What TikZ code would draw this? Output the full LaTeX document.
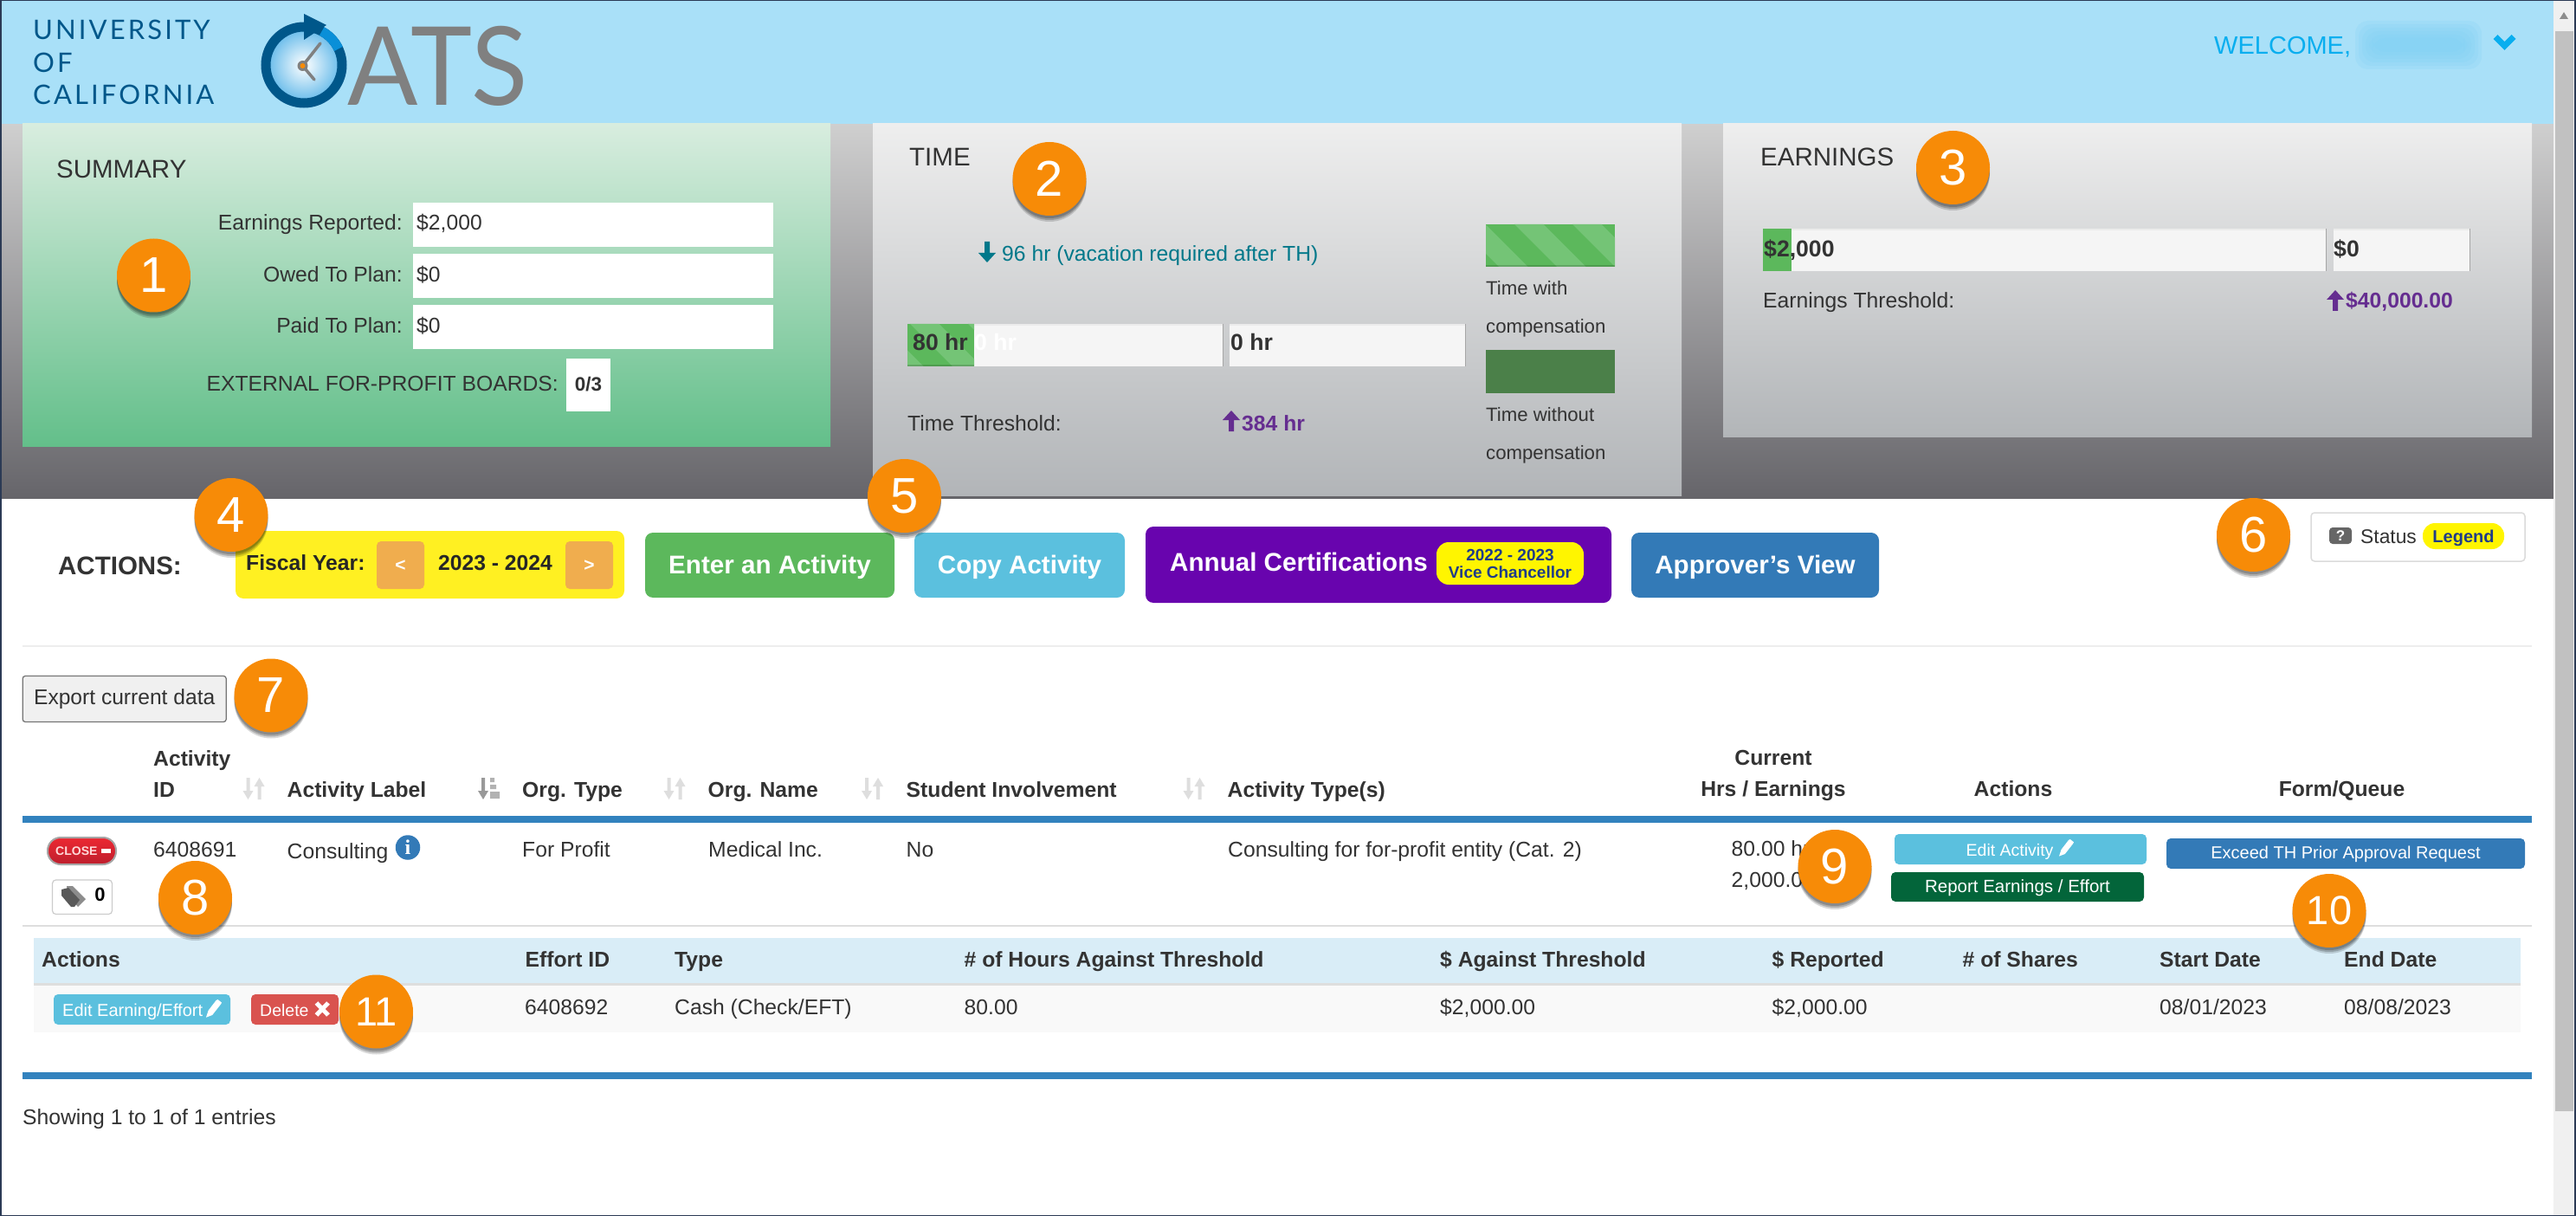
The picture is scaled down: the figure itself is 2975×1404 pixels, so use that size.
\documentclass[tikz,border=0pt]{standalone}
\usepackage{fontspec}
\setmainfont{Liberation Sans}
\newfontfamily\logofont{Lato}
\newfontfamily\unifont[LetterSpace=10]{Lato}
\newfontfamily\infofont{Liberation Serif}
\usetikzlibrary{shadows}
\definecolor{headblue}{HTML}{A9E0F8}
\definecolor{blurblue}{HTML}{7FD0F4}
\definecolor{welcomeblue}{HTML}{09AEEF}
\definecolor{logoblue}{HTML}{00578A}
\definecolor{logolight}{HTML}{0A8FD8}
\definecolor{clockedge}{HTML}{6EBEEB}
\definecolor{logogray}{HTML}{808080}
\definecolor{badgeorange}{HTML}{F78B07}
\definecolor{txtgray}{HTML}{333333}
\definecolor{bandtop}{HTML}{CFCFCF}
\definecolor{bandbot}{HTML}{66656A}
\definecolor{sumtop}{HTML}{D8EDDF}
\definecolor{sumbot}{HTML}{63BF8A}
\definecolor{paneltop}{HTML}{EEEEEE}
\definecolor{panelbot}{HTML}{B2B5B8}
\definecolor{barwhite}{HTML}{F5F5F5}
\definecolor{stripedark}{HTML}{5CB85C}
\definecolor{stripelight}{HTML}{74C476}
\definecolor{nocomp}{HTML}{4B8049}
\definecolor{tealtxt}{HTML}{00788A}
\definecolor{purpletxt}{HTML}{652D90}
\definecolor{fyyellow}{HTML}{FFF022}
\definecolor{fyorange}{HTML}{F0AD4E}
\definecolor{btnblue}{HTML}{5BC0DE}
\definecolor{btnnavy}{HTML}{337AB7}
\definecolor{btnpurple}{HTML}{6804AE}
\definecolor{pillyellow}{HTML}{FFF500}
\definecolor{pilltxt}{HTML}{1F3C88}
\definecolor{ruleblue}{HTML}{3282BE}
\definecolor{reportgreen}{HTML}{03653A}
\definecolor{delred}{HTML}{D9534F}
\definecolor{closetop}{HTML}{EC2832}
\definecolor{closebot}{HTML}{BE1E2D}
\definecolor{subhead}{HTML}{D9EDF7}
\definecolor{frameblue}{HTML}{2B3A55}
\definecolor{scrollgray}{HTML}{C1C1C1}
\definecolor{scrolltrack}{HTML}{F0F0F0}
\newcommand{\fsize}[1]{\fontsize{#1}{#1}\selectfont}
\newcommand{\stripes}[5]{%
    \begin{scope}
        \clip (#1,#2) rectangle (#3,#4);
        \fill[stripedark] (#1,#2) rectangle (#3,#4);
        \foreach \k in {-3,...,3}
            \fill[stripelight] (#5+67*\k,#2) -- ++(33.5,0) -- ++(50,50) -- ++(-33.5,0) -- cycle;
        \fill[black,opacity=.15] (#1,#4-2) rectangle (#3,#4);
    \end{scope}}
\newcommand{\barbox}[4]{%
    \fill[barwhite] (#1,#2) rectangle (#3,#4);
    \fill[black!8] (#1,#2) rectangle (#3,#2+2);
    \fill[black!35] (#3-1.5,#2) rectangle (#3,#4);}
\begin{document}
\begin{tikzpicture}[x=1pt,y=-1pt,
    lbl/.style={anchor=base west,inner sep=0pt,text=txtgray,font=\fsize{24.7}},
    lblr/.style={lbl,anchor=base east},
    lblc/.style={lbl,anchor=base},
    hdr/.style={lbl,font=\fsize{24.7}\bfseries},
    hdrc/.style={hdr,anchor=base},
    title/.style={lbl,font=\fsize{29.5}},
    small/.style={lbl,font=\fsize{22.2}},
    barval/.style={lbl,font=\fsize{26.6}\bfseries},
    badge/.style={circle,fill=badgeorange,text=white,minimum size=85pt,inner sep=0pt,font=\fsize{58},
        drop shadow={shadow xshift=0pt,shadow yshift=-3pt,opacity=.2,fill=black},
        drop shadow={shadow xshift=0pt,shadow yshift=-5pt,opacity=.2,fill=black},
        drop shadow={shadow xshift=0pt,shadow yshift=-7pt,opacity=.15,fill=black}},
    btn/.style={rounded corners=9pt,text=white,inner sep=0pt,font=\fsize{29.6}\bfseries,text height=20pt,text depth=0pt},
    fybtn/.style={btn,fill=fyorange,minimum width=55pt,minimum height=55pt,rounded corners=5pt,font=\fsize{21}\bfseries,text height=14pt},
    smallbtn/.style={rounded corners=5pt,text=white,inner sep=0pt,font=\fsize{19.5},text height=12pt,text depth=0pt},
    pill/.style={rounded corners=14pt,fill=pillyellow,inner sep=0pt},
    pilltext/.style={anchor=base,inner sep=0pt,text=pilltxt,font=\fsize{19}\bfseries},
    upicon/.pic={\fill (10,0) -- (20,11) -- (13,11) -- (13,24) -- (7,24) -- (7,11) -- (0,11) -- cycle;},
    downicon/.pic={\fill (10,24) -- (20,13) -- (13,13) -- (13,0) -- (7,0) -- (7,13) -- (0,13) -- cycle;},
    sorticon/.pic={\fill[black!13] (6,25) -- (12,15) -- (8,15) -- (8,0) -- (4,0) -- (4,15) -- (0,15) -- cycle;
        \fill[black!13] (19,0) -- (25,10) -- (21,10) -- (21,25) -- (17,25) -- (17,10) -- (13,10) -- cycle;},
    pencilicon/.pic={\fill[white] (0,23) -- (3,14) -- (13,1) -- (15,0) -- (20,4) -- (19,6) -- (8,20) -- cycle;}]

    \useasboundingbox (0,0) rectangle (2975,1404);
    \fill[white] (0,0) rectangle (2975,1404);

    \shade[top color=bandtop,bottom color=bandbot] (1,143) rectangle (2950,575);
    \fill[headblue] (1,1) rectangle (2950,143);

    \shade[top color=sumtop,bottom color=sumbot] (26,143) rectangle (959,515);
    \shade[top color=paneltop,bottom color=panelbot] (1008,143) rectangle (1942,572);
    \shade[top color=paneltop,bottom color=panelbot] (1990,143) rectangle (2924,504);

    \node[anchor=base west,inner sep=0pt,text=logoblue,font=\unifont\fsize{31}] (uni1) at (38,46)  {UNIVERSITY};
    \node[anchor=base west,inner sep=0pt,text=logoblue,font=\unifont\fsize{31}] (uni2) at (38,84)  {OF};
    \node[anchor=base west,inner sep=0pt,text=logoblue,font=\unifont\fsize{31}] (uni3) at (38,121) {CALIFORNIA};

    \shade[inner color=white,outer color=clockedge] (351,75) circle (40);
    \draw[logoblue,line width=11pt] (351,75) circle (44);
    \draw[logolight,line width=11pt] (351,75) ++(-62:44) arc[start angle=-62,end angle=-25,radius=44];
    \fill[logoblue] (351,16) -- (377,29) -- (351,46) -- cycle;
    \draw[logogray,line width=3.5pt,line cap=round] (370,50) -- (349.5,76) -- (363,92);
    \fill[logogray] (349.5,76) circle (6);
    \fill[badgeorange] (349.5,76) circle (3);
    \node[anchor=base west,inner sep=0pt,text=logogray,font=\logofont\fsize{126}] (ats) at (401,122) {\scalebox{.955}[1]{ATS}};

    \node[anchor=base west,inner sep=0pt,text=welcomeblue,font=\fsize{29}] (welcome) at (2557,63) {WELCOME,};
    \foreach \d in {0,4,...,20}
        \fill[blurblue,opacity=.2,rounded corners=15pt] (2720+\d,24+\d) rectangle (2866-\d,80-\d);
    \draw[welcomeblue,line width=7pt] (2882,42.5) -- (2892.5,53) -- (2903,42.5);

    \node[title] (summary) at (65,206) {SUMMARY};
    \node[lblr]  (earnrep) at (465,266) {Earnings Reported:};
    \node[lblr]  (owed)    at (465,326) {Owed To Plan:};
    \node[lblr]  (paid)    at (465,385) {Paid To Plan:};
    \fill[white] (477,234) rectangle (893,285);
    \fill[white] (477,293) rectangle (893,344);
    \fill[white] (477,352) rectangle (893,403);
    \node[lbl]   (earnval) at (481,266) {\$2,000};
    \node[lbl]   (owedval) at (481,326) {\$0};
    \node[lbl]   (paidval) at (481,385) {\$0};
    \node[lblr]  (extern)  at (645,452) {EXTERNAL FOR-PROFIT BOARDS:};
    \fill[white] (654,414) rectangle (705,475);
    \node[lblc,font=\fsize{22.5}\bfseries] (boards) at (679.5,452) {0/3};

    \node[title] (time) at (1050,192) {TIME};
    \pic[tealtxt] at (1130,279) {downicon};
    \node[lbl,text=tealtxt] (vacation) at (1157,302) {96 hr (vacation required after TH)};
    \stripes{1716}{259}{1865}{308}{1749}
    \node[small] (with1) at (1716,341) {Time with};
    \node[small] (with2) at (1716,385) {compensation};
    \fill[nocomp] (1716,404) rectangle (1865,454);
    \node[small] (wout1) at (1716,486) {Time without};
    \node[small] (wout2) at (1716,530) {compensation};
    \barbox{1048}{374}{1413}{423}
    \barbox{1420}{374}{1693}{423}
    \stripes{1048}{374}{1125}{423}{1051}
    \node[barval] (hrgreen) at (1054,405) {80 hr};
    \node[barval,text=white] (hrwhite) at (1125,405) {0 hr};
    \node[barval] (hrzero) at (1421,405) {0 hr};
    \node[lbl] (timeth) at (1048,497) {Time Threshold:};
    \pic[purpletxt] at (1412,474) {upicon};
    \node[lbl,font=\fsize{24.7}\bfseries,text=purpletxt] (hrth) at (1434,497) {384 hr};

    \node[title] (earnings) at (2033,192) {EARNINGS};
    \barbox{2036}{264}{2687}{313}
    \barbox{2695}{264}{2853}{313}
    \fill[stripedark] (2036,264) rectangle (2069,313);
    \node[barval] (eargreen) at (2037,297) {\$2,000};
    \node[barval] (earzero)  at (2695,297) {\$0};
    \node[lbl]    (earth)    at (2036,356) {Earnings Threshold:};
    \pic[purpletxt] at (2687,335) {upicon};
    \node[lbl,font=\fsize{24.7}\bfseries,text=purpletxt] (earthval) at (2709,356) {\$40,000.00};

    \node[lbl,font=\fsize{29.5}\bfseries] (actions) at (67,663) {ACTIONS:};
    \fill[fyyellow,rounded corners=9pt] (272,613) rectangle (721,691);
    \node[hdr,text=black!85] (fiscal) at (284,658) {Fiscal Year:};
    \node[fybtn] (prev) at (462.5,652.5) {<};
    \node[hdrc,text=black!85] (year) at (572,658) {2023 - 2024};
    \node[fybtn] (next) at (680.5,652.5) {>};
    \node[btn,fill=stripedark,minimum width=288pt,minimum height=75pt] (enter)  at (889,652.5)  {Enter an Activity};
    \node[btn,fill=btnblue,minimum width=243pt,minimum height=75pt]    (copy)   at (1177.5,652.5) {Copy Activity};
    \fill[btnpurple,rounded corners=9pt] (1323,608) rectangle (1861,696);
    \node[lbl,text=white,font=\fsize{29.6}\bfseries] (annual) at (1351,659) {Annual Certifications};
    \node[pill,minimum width=170pt,minimum height=49pt] (cert) at (1744,650.5) {};
    \node[pilltext] (certyear) at (1744,647) {2022 - 2023};
    \node[pilltext] (certvc)   at (1744,667) {Vice Chancellor};
    \node[btn,fill=btnnavy,minimum width=286pt,minimum height=75pt]    (appr)   at (2027,652.5) {Approver's View};

    \draw[black!14,rounded corners=4pt,fill=white,line width=1.5pt] (2669,592) rectangle (2916,648);
    \fill[black!60,rounded corners=4pt] (2690,609) rectangle (2716,628);
    \node[anchor=center,inner sep=0pt,text=white,font=\fsize{17}\bfseries] (quest) at (2703,618.5) {?};
    \node[lbl,font=\fsize{22.8}] (status) at (2726,627) {Status};
    \node[pill,minimum width=94pt,minimum height=30pt] (legend) at (2845,619) {};
    \node[pilltext,font=\fsize{20}\bfseries] (legendt) at (2845,626) {Legend};

    \fill[black!7] (26,745) rectangle (2924,747);

    \node[draw=black!54,fill=black!6,rounded corners=3pt,line width=1.3pt,minimum width=235pt,minimum height=53pt,inner sep=0pt,text=txtgray,font=\fsize{24.6},text height=12pt,text depth=0pt] (export) at (143.7,807) {Export current data};

    \node[hdr]  (colid1)   at (177,884)    {Activity};
    \node[hdr]  (colid2)   at (177,920)    {ID};
    \node[hdr]  (collabel) at (331.5,920)  {Activity Label};
    \node[hdr]  (coltype)  at (603,920)    {Org. Type};
    \node[hdr]  (colname)  at (817.5,920)  {Org. Name};
    \node[hdr]  (colstud)  at (1046.5,920) {Student Involvement};
    \node[hdr]  (colact)   at (1417.5,920) {Activity Type(s)};
    \node[hdrc] (colcur1)  at (2048,883)   {Current};
    \node[hdrc] (colcur2)  at (2048,919)   {Hrs / Earnings};
    \node[hdrc] (colacts)  at (2325,919)   {Actions};
    \node[hdrc] (colform)  at (2704.5,919) {Form/Queue};
    \pic at (280.5,898) {sorticon};
    \pic at (766.5,898) {sorticon};
    \pic at (995,898) {sorticon};
    \pic at (1366.5,898) {sorticon};
    \fill[black!40] (558,923) -- (564,913) -- (560,913) -- (560,898) -- (556,898) -- (556,913) -- (552,913) -- cycle;
    \fill[black!30] (566,898) rectangle (571,903) (566,906) rectangle (573,911) (566,914) rectangle (577,922);

    \fill[ruleblue] (26,942) rectangle (2924,950);
    \fill[ruleblue] (26,1238) rectangle (2924,1246);
    \fill[black!13] (26,1068) rectangle (2924,1070);

    \node[draw=black!35,line width=2pt,rounded corners=15pt,top color=closetop,bottom color=closebot,minimum width=79pt,minimum height=31pt,inner sep=0pt] (close) at (94.5,982.5) {};
    \node[anchor=base west,inner sep=0pt,text=white!85!red,font=\fsize{14}\bfseries] (closet) at (64,987.5) {CLOSE};
    \fill[white] (117,980) rectangle (127.5,984.5);
    \draw[black!20,fill=white,rounded corners=4pt,line width=1.2pt] (60.5,1016) rectangle (129.5,1055.5);
    \fill[black!45] (77,1023) -- (84,1023) -- (99,1038) -- (90,1047) -- (79,1034) -- cycle;
    \fill[black!65] (71,1027) -- (79,1025) -- (92,1039) -- (86,1047) -- (82,1047) -- (71,1034) -- cycle;
    \node[lblc,font=\fsize{22}\bfseries,text=black] (tagnum) at (115.5,1040) {0};

    \node[lbl] (rowid)    at (177,989)    {6408691};
    \node[lbl] (rowlabel) at (331.5,991.5) {Consulting};
    \node[circle,fill=btnnavy,minimum size=28.5pt,inner sep=0pt,text=white,font=\infofont\fsize{24}\bfseries] (info) at (471,978.5) {i};
    \node[lbl] (rowtype)  at (603,989)    {For Profit};
    \node[lbl] (rowname)  at (818,989)    {Medical Inc.};
    \node[lbl] (rowstud)  at (1046.5,989) {No};
    \node[lbl] (rowact)   at (1418,989)   {Consulting for for-profit entity (Cat. 2)};
    \node[lbl] (rowhrs)   at (1999.5,988) {80.00 hr};
    \node[lbl] (rowearn)  at (1999.5,1024) {2,000.00};

    \node[smallbtn,fill=btnblue,minimum width=291pt,minimum height=35pt] (editact) at (2333.5,980.5) {};
    \node[lbl,text=white,font=\fsize{19.5}] (editactt) at (2270.5,988) {Edit Activity};
    \pic[scale=.85] at (2378,969) {pencilicon};
    \node[smallbtn,fill=reportgreen,minimum width=292pt,minimum height=34pt,font=\fsize{20.5}] (report) at (2330,1024) {Report Earnings / Effort};
    \node[smallbtn,fill=btnnavy,minimum width=414pt,minimum height=35pt,font=\fsize{20}] (exceed) at (2709,985.5) {Exceed TH Prior Approval Request};

    \fill[subhead] (39,1083) rectangle (2911,1135);
    \fill[black!13] (39,1135) rectangle (2911,1138);
    \fill[black!2.5] (39,1138) rectangle (2911,1192);
    \node[hdr] (subacts)  at (48,1116.5)   {Actions};
    \node[hdr] (subid)    at (606.5,1116.5) {Effort ID};
    \node[hdr] (subtype)  at (779,1116.5)  {Type};
    \node[hdr] (subhours) at (1113.5,1116.5) {\# of Hours Against Threshold};
    \node[hdr] (subamt)   at (1663,1116.5) {\$ Against Threshold};
    \node[hdr] (subrep)   at (2046.5,1116.5) {\$ Reported};
    \node[hdr] (subshare) at (2266.5,1116.5) {\# of Shares};
    \node[hdr] (substart) at (2494,1116.5) {Start Date};
    \node[hdr] (subend)   at (2707,1116.5) {End Date};
    \node[lbl] (valid)    at (606,1171.5)  {6408692};
    \node[lbl] (valtype)  at (779,1171.5)  {Cash (Check/EFT)};
    \node[lbl] (valhours) at (1113.5,1171.5) {80.00};
    \node[lbl] (valamt)   at (1663,1171.5) {\$2,000.00};
    \node[lbl] (valrep)   at (2046.5,1171.5) {\$2,000.00};
    \node[lbl] (valstart) at (2494,1171.5) {08/01/2023};
    \node[lbl] (valend)   at (2707,1171.5) {08/08/2023};

    \node[smallbtn,fill=btnblue,minimum width=204pt,minimum height=35pt] (editeff) at (164,1165.5) {};
    \node[lbl,text=white,font=\fsize{20}] (editefft) at (72,1173) {Edit Earning/Effort};
    \pic[scale=.9] at (238,1154) {pencilicon};
    \node[smallbtn,fill=delred,minimum width=101pt,minimum height=35pt] (delete) at (340.5,1165.5) {};
    \node[lbl,text=white,font=\fsize{19.5}] (deletet) at (300,1173) {Delete};
    \draw[white,line width=5pt] (365.5,1158) -- (379,1172) (379,1158) -- (365.5,1172);

    \node[lbl] (showing) at (26,1298) {Showing 1 to 1 of 1 entries};

    \node[badge] (b1)  at (177.5,318)  {1};
    \node[badge] (b2)  at (1212,206.5) {2};
    \node[badge] (b3)  at (2255.5,193.5) {3};
    \node[badge] (b4)  at (267,594.5)  {4};
    \node[badge] (b5)  at (1044.5,572.5) {5};
    \node[badge] (b6)  at (2602.5,617.5) {6};
    \node[badge] (b7)  at (313,803)    {7};
    \node[badge] (b8)  at (225.5,1036.5) {8};
    \node[badge] (b9)  at (2119,1000.5) {9};
    \node[badge,font=\fsize{47}] (b10) at (2690,1051.5) {10};
    \node[badge,font=\fsize{47}] (b11) at (434.5,1168) {11};

    \fill[scrolltrack] (2949,0) rectangle (2973,1404);
    \fill[scrollgray] (2951,36) rectangle (2972,1283);
    \fill[black!45] (2956,22) -- (2961,14) -- (2966,22) -- cycle;

    \fill[frameblue] (0,0) rectangle (2975,1.5);
    \fill[frameblue] (0,0) rectangle (1.5,1404);
    \fill[frameblue] (0,1402.5) rectangle (2975,1404);
    \fill[frameblue] (2973,0) rectangle (2975,1404);
\end{tikzpicture}
\end{document}
